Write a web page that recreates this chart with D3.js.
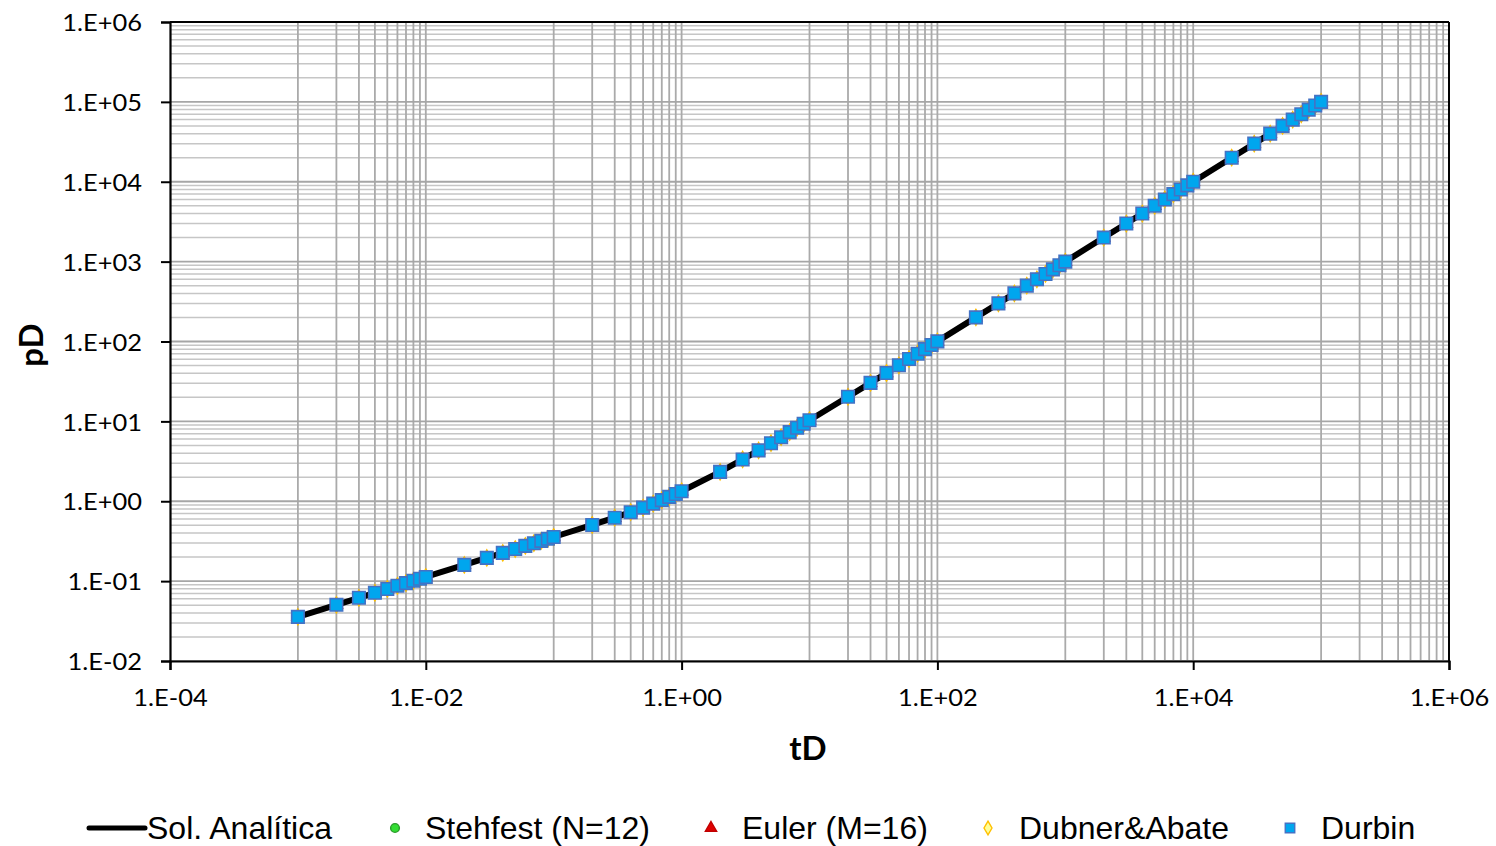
<!DOCTYPE html>
<html>
<head>
<meta charset="utf-8">
<script src="https://cdn.jsdelivr.net/npm/d3@7/dist/d3.min.js"></script>
<style>
  html, body { margin: 0; padding: 0; background: #fff; }
  svg { display: block; }
</style>
</head>
<body>
<svg id="chart" width="1496" height="846"></svg>
<script>
// ---------------- data ----------------
const tD = [
  0.001, 0.002, 0.003, 0.004, 0.005, 0.006, 0.007, 0.008, 0.009,
  0.01, 0.02, 0.03, 0.04, 0.05, 0.06, 0.07, 0.08, 0.09,
  0.1, 0.2, 0.3, 0.4, 0.5, 0.6, 0.7, 0.8, 0.9,
  1, 2, 3, 4, 5, 6, 7, 8, 9,
  10, 20, 30, 40, 50, 60, 70, 80, 90,
  100, 200, 300, 400, 500, 600, 700, 800, 900,
  1000, 2000, 3000, 4000, 5000, 6000, 7000, 8000, 9000,
  10000, 20000, 30000, 40000, 50000, 60000, 70000, 80000, 90000,
  100000
];
const pD = [
  0.0357, 0.0505, 0.0618, 0.0714, 0.0798, 0.0874, 0.0944, 0.1009, 0.1070,
  0.1128, 0.1596, 0.1954, 0.2257, 0.2523, 0.2764, 0.2985, 0.3192, 0.3385,
  0.3568, 0.5046, 0.6225, 0.7294, 0.8319, 0.9328, 1.0332, 1.1333, 1.2333,
  1.333, 2.333, 3.333, 4.333, 5.333, 6.333, 7.333, 8.333, 9.333,
  10.33, 20.33, 30.33, 40.33, 50.33, 60.33, 70.33, 80.33, 90.33,
  100.3, 200.3, 300.3, 400.3, 500.3, 600.3, 700.3, 800.3, 900.3,
  1000.3, 2000.3, 3000.3, 4000.3, 5000.3, 6000.3, 7000.3, 8000.3, 9000.3,
  10000.3, 20000.3, 30000.3, 40000.3, 50000.3, 60000.3, 70000.3, 80000.3, 90000.3,
  100000.3
];
const seriesNames = ["Sol. Analítica", "Stehfest (N=12)", "Euler (M=16)", "Dubner&Abate", "Durbin"];
const xTickValues = [1e-4, 1e-2, 1e0, 1e2, 1e4, 1e6];
const xTickLabels = ["1.E-04", "1.E-02", "1.E+00", "1.E+02", "1.E+04", "1.E+06"];
const yTickValues = [1e-2, 1e-1, 1e0, 1e1, 1e2, 1e3, 1e4, 1e5, 1e6];
const yTickLabels = ["1.E-02", "1.E-01", "1.E+00", "1.E+01", "1.E+02", "1.E+03", "1.E+04", "1.E+05", "1.E+06"];
const xTitle = "tD";
const yTitle = "pD";

// ---------------- layout ----------------
const svg = d3.select("#chart");
const plot = { left: 170, right: 1449, top: 22, bottom: 661 };

const x = d3.scaleLog().domain([1e-4, 1e6]).range([plot.left, plot.right]);
const y = d3.scaleLog().domain([1e-2, 1e6]).range([plot.bottom, plot.top]);

const tickFont = "Lato, 'Open Sans', sans-serif";
const legendFont = "'Liberation Sans', Arial, sans-serif";

// ---------------- gridlines ----------------
const grid = svg.append("g");
const hMinor = [];
for (let e = -2; e < 6; e++) for (let k = 2; k <= 9; k++) hMinor.push(k * Math.pow(10, e));
grid.selectAll(".hmin").data(hMinor).enter().append("line")
  .attr("x1", plot.left).attr("x2", plot.right)
  .attr("y1", d => y(d)).attr("y2", d => y(d))
  .attr("stroke", "#c6c6c6").attr("stroke-width", 1.5);
const vLines = [];
for (let e = -3; e <= 5; e += 2) for (let k = 1; k <= 10; k++) vLines.push(k * Math.pow(10, e));
grid.selectAll(".v").data(vLines.filter(d => d < 1e6)).enter().append("line")
  .attr("y1", plot.top).attr("y2", plot.bottom)
  .attr("x1", d => x(d)).attr("x2", d => x(d))
  .attr("stroke", "#aaaaaa").attr("stroke-width", 1.8);
grid.selectAll(".hmaj").data(yTickValues).enter().append("line")
  .attr("x1", plot.left).attr("x2", plot.right)
  .attr("y1", d => y(d)).attr("y2", d => y(d))
  .attr("stroke", "#a6a6a6").attr("stroke-width", 1.8);

svg.append("line").attr("x1", plot.left).attr("x2", plot.right).attr("y1", plot.top).attr("y2", plot.top)
  .attr("stroke", "#000").attr("stroke-width", 2);
svg.append("line").attr("x1", plot.right).attr("x2", plot.right).attr("y1", plot.top).attr("y2", plot.bottom)
  .attr("stroke", "#000").attr("stroke-width", 2);

// ---------------- axes ----------------
const xAxis = d3.axisBottom(x).tickValues(xTickValues)
  .tickFormat((d, i) => xTickLabels[i]).tickSize(9).tickPadding(19);
const yAxis = d3.axisLeft(y).tickValues(yTickValues)
  .tickFormat((d, i) => yTickLabels[i]).tickSize(9).tickPadding(19);

const gx = svg.append("g").attr("transform", `translate(0,${plot.bottom})`).call(xAxis);
const gy = svg.append("g").attr("transform", `translate(${plot.left},0)`).call(yAxis);
[gx, gy].forEach(g => {
  g.select(".domain").attr("stroke", "#000").attr("stroke-width", 2.2);
  g.selectAll(".tick line").attr("stroke", "#000").attr("stroke-width", 2);
  g.selectAll(".tick text").attr("fill", "#000")
    .style("font-family", tickFont).style("font-size", "24px");
});
[gx, gy].forEach(g => g.selectAll(".tick text").each(function () {
  const w = this.getComputedTextLength();
  d3.select(this).attr("textLength", w * 1.06).attr("lengthAdjust", "spacingAndGlyphs");
}));
gy.selectAll(".tick text").attr("dy", "0.36em");
gx.selectAll(".tick text").attr("dy", "0.71em");

// axis titles
svg.append("text").text(xTitle)
  .attr("x", 808).attr("y", 760).attr("text-anchor", "middle")
  .style("font-family", tickFont).style("font-weight", "bold").style("font-size", "33px");
svg.append("text").text(yTitle)
  .attr("transform", "translate(43,345) rotate(-90)").attr("text-anchor", "middle")
  .style("font-family", tickFont).style("font-weight", "bold").style("font-size", "33px");

// ---------------- series ----------------
const pts = tD.map((t, i) => ({ t, p: pD[i] }));
const line = d3.line().x(d => x(d.t)).y(d => y(d.p));
svg.append("path").datum(pts).attr("d", line)
  .attr("fill", "none").attr("stroke", "#000").attr("stroke-width", 6).attr("stroke-linejoin", "round");

const marks = svg.append("g");
const sym = {
  "Stehfest (N=12)": { type: d3.symbolCircle, size: 80, fill: "#33dd33", stroke: "#2a9a2a" },
  "Euler (M=16)": { type: d3.symbolTriangle, size: 60, fill: "#e00000", stroke: "#c00000" },
  "Dubner&Abate": { type: d3.symbolDiamond, size: 70, fill: "#ffff99", stroke: "#ffc000" },
  "Durbin": { type: d3.symbolSquare, size: 156, fill: "#00a6ee", stroke: "#4472c4" }
};
seriesNames.slice(1).forEach(name => {
  const s = sym[name];
  marks.append("g").selectAll("path").data(pts).enter().append("path")
    .attr("d", d3.symbol().type(s.type).size(s.size))
    .attr("transform", d => `translate(${x(d.t)},${y(d.p)})`)
    .attr("fill", s.fill).attr("stroke", s.stroke).attr("stroke-width", 1.6);
});

// ---------------- legend ----------------
const legend = svg.append("g");
const legY = 828;
const legItems = [
  { name: seriesNames[0], mx: 116, tx: 147 },
  { name: seriesNames[1], mx: 395, tx: 425 },
  { name: seriesNames[2], mx: 711, tx: 742 },
  { name: seriesNames[3], mx: 988, tx: 1019 },
  { name: seriesNames[4], mx: 1290, tx: 1321 }
];
legItems.forEach((it, i) => {
  if (i === 0) {
    legend.append("line").attr("x1", 89).attr("x2", 145).attr("y1", legY).attr("y2", legY)
      .attr("stroke", "#000").attr("stroke-width", 5).attr("stroke-linecap", "round");
  } else {
    const s = sym[it.name];
    const size = { "Stehfest (N=12)": 60, "Euler (M=16)": 55, "Dubner&Abate": 55, "Durbin": 90 }[it.name];
    legend.append("path").attr("d", d3.symbol().type(s.type).size(size))
      .attr("transform", `translate(${it.mx},${legY})`)
      .attr("fill", s.fill).attr("stroke", s.stroke).attr("stroke-width", 1.4);
  }
  legend.append("text").text(it.name)
    .attr("x", it.tx).attr("y", legY + 11)
    .style("font-family", legendFont).style("font-size", "32px").attr("fill", "#000");
});
</script>
</body>
</html>
